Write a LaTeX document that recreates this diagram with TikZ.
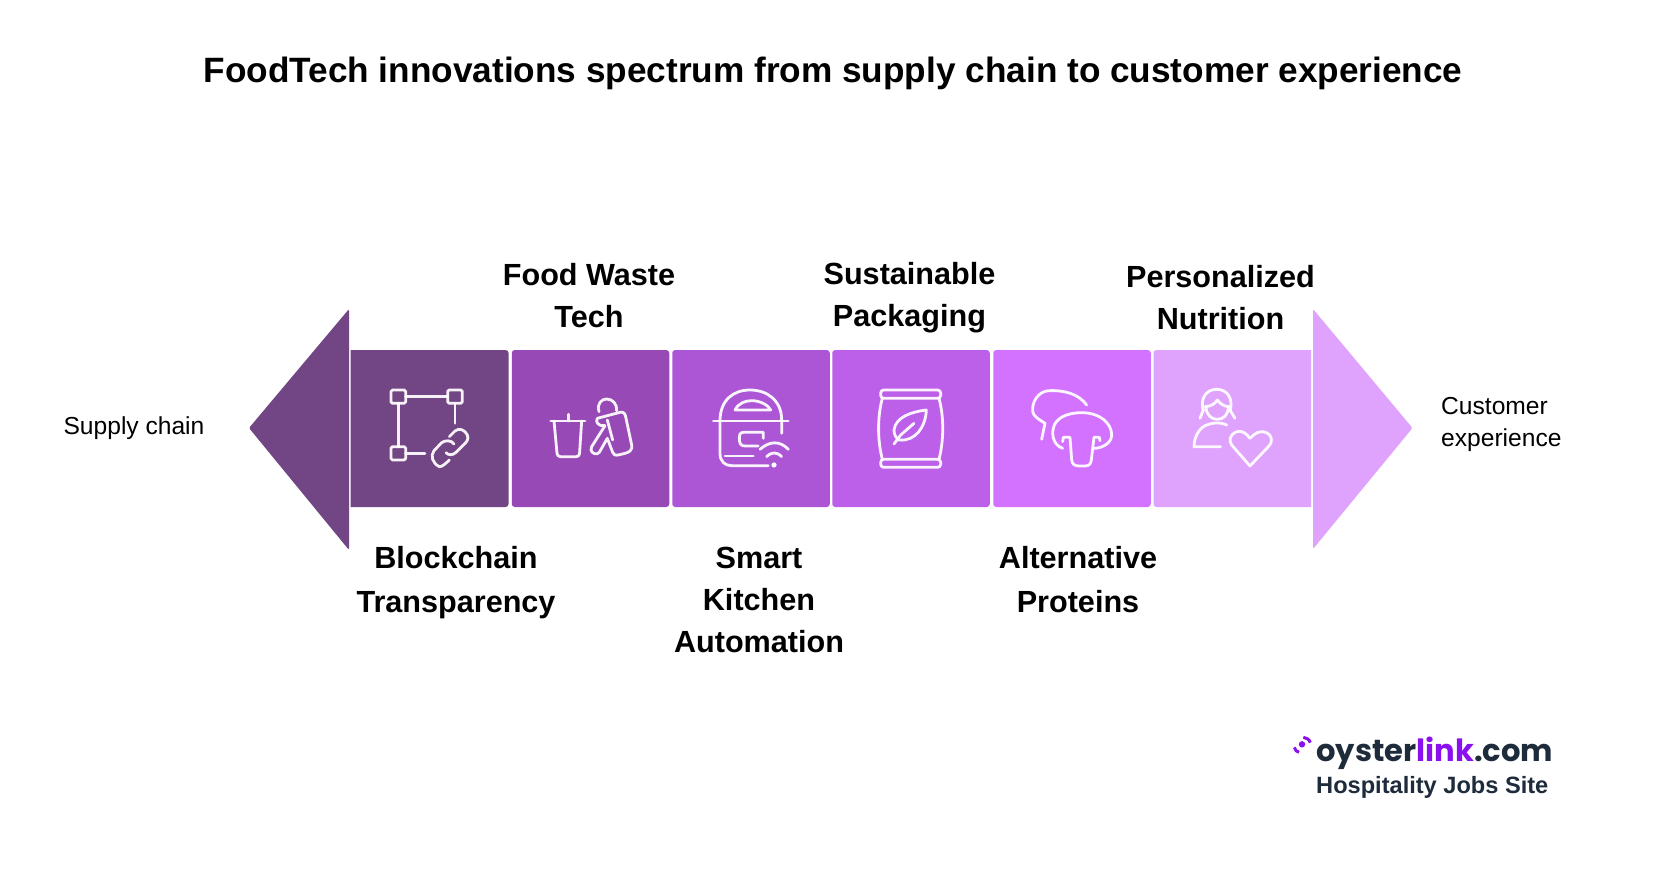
\documentclass[tikz,border=0pt]{standalone}
\usepackage{fontspec}
\setmainfont{Liberation Sans}
\newfontfamily\logofont{Poppins}
\definecolor{cA}{HTML}{724685}
\definecolor{cB}{HTML}{974AB5}
\definecolor{cC}{HTML}{AC56D6}
\definecolor{cD}{HTML}{BC60EA}
\definecolor{cE}{HTML}{D272FF}
\definecolor{cF}{HTML}{E0A3FD}
\definecolor{logoDark}{HTML}{1E2B3A}
\definecolor{logoPurple}{HTML}{8B10F0}
\tikzset{
  tile/.style={fill=#1,draw=none,inner sep=0pt,minimum width=157.5pt,minimum height=157pt,rounded corners=3pt},
  head/.style={inner sep=0pt,align=center,font=\fontsize{35.2}{41}\selectfont\bfseries},
  lab/.style={inner sep=0pt,align=center,font=\fontsize{30.6}{42}\selectfont\bfseries},
  labwide/.style={inner sep=0pt,align=center,font=\fontsize{30.6}{44}\selectfont\bfseries},
  side/.style={inner sep=0pt,align=left,font=\fontsize{24.6}{32}\selectfont},
  icon/.style={draw=white,line width=2.8pt,line cap=round,line join=round,opacity=.93},
}
\begin{document}
\begin{tikzpicture}[x=1pt,y=-1pt]
\useasboundingbox (0,0) rectangle (1654,888);
\fill[white] (0,0) rectangle (1654,888);
\node[head] (title) at (833,73) {FoodTech innovations spectrum from supply chain to customer experience};
% arrows
\fill[cA,rounded corners=1.5pt] (349,309) -- (249,428) -- (349,550) -- cycle;
\fill[cF,rounded corners=1.5pt] (1313,309) -- (1412.5,428) -- (1313,549) -- cycle;
% tiles
\fill[cA,rounded corners=3pt] (350.5,350) [sharp corners] -- (350.5,350) [rounded corners=3pt] -- (508.5,350) -- (508.5,507) [sharp corners] -- (350.5,507) -- cycle;
\node[tile=cB] (t2) at (590.5,428.5) {};
\node[tile=cC] (t3) at (751,428.5) {};
\node[tile=cD] (t4) at (911,428.5) {};
\node[tile=cE] (t5) at (1072,428.5) {};
\fill[cF,rounded corners=3pt] (1311,350) [sharp corners] -- (1311,350) -- (1311,507) [rounded corners=3pt] -- (1153.5,507) -- (1153.5,350) [sharp corners] -- cycle;
% labels
\node[labwide] (l1) at (456,583) {Blockchain\\Transparency};
\node[lab] (l2) at (589,296) {Food Waste\\Tech};
\node[lab] (l3) at (759,600) {Smart\\Kitchen\\Automation};
\node[lab] (l4) at (909.5,298) {Sustainable\\Packaging};
\node[labwide] (l5) at (1078,580) {Alternative\\Proteins};
\node[lab] (l6) at (1220.5,297.5) {Personalized\\Nutrition};
\node[side] (sc) at (134,428) {Supply chain};
\node[side,anchor=west] (ce) at (1441,424) {Customer\\experience};
% icon 1
\begin{scope}[shift={(240,300)},x=.3333pt,y=-.3333pt]
\draw[icon,rounded corners=1.5pt] (453,270) rectangle (497,310);
\draw[icon,rounded corners=1.5pt] (623,270) rectangle (667,310);
\draw[icon,rounded corners=1.5pt] (453,440) rectangle (497,480);
\draw[icon] (497,290) -- (623,290) (475,310) -- (475,440) (645,310) -- (645,370) (497,460) -- (555,460);
\end{scope}
\begin{scope}[shift={(420,420)},x=.3333pt,y=-.3333pt]
\draw[icon] (102,72) .. controls (95,60) and (75,60) .. (65,68) -- (42,92) .. controls (30,108) and (38,130) .. (58,140) .. controls (65,142) and (80,128) .. (88,120);
\draw[icon] (88,50) -- (105,33) .. controls (118,22) and (135,30) .. (142,45) .. controls (148,58) and (138,68) .. (130,75) -- (108,97) .. controls (98,107) and (85,106) .. (78,98);
\end{scope}
% icon 2
\begin{scope}[shift={(540,385)},x=.3333pt,y=-.3333pt]
\draw[icon] (32,108) -- (135,108) (85,88) -- (85,108);
\draw[icon,rounded corners=3pt] (42,108) -- (52,215) -- (118,215) -- (125,108);
\end{scope}
\begin{scope}[shift={(590,395)},x=.3333pt,y=-.3333pt]
\draw[icon] (27,50) .. controls (20,25) and (35,12) .. (50,12) .. controls (68,12) and (82,28) .. (80,47);
\draw[icon] (22,70) -- (90,52) .. controls (100,50) and (105,55) .. (107,65) -- (125,150) .. controls (128,165) and (118,172) .. (105,175) -- (85,180) .. controls (75,182) and (70,178) .. (68,172) -- (52,130) -- (28,172) .. controls (20,182) and (5,175) .. (3,165) .. controls (2,160) and (3,158) .. (5,155) -- (45,92) .. controls (25,95) and (15,80) .. (22,70);
\draw[icon] (52,75) -- (68,135);
\end{scope}
% icon 3
\begin{scope}[shift={(700,370)},x=.3333pt,y=-.3333pt]
\draw[icon] (60,153) .. controls (60,90) and (100,60) .. (150,60) .. controls (200,60) and (245,90) .. (245,150) -- (245,190);
\draw[icon] (40,153) -- (265,153);
\draw[icon] (105,120) .. controls (115,100) and (135,92) .. (155,92) .. controls (180,92) and (205,105) .. (212,120) -- cycle;
\draw[icon] (60,153) -- (60,250) .. controls (60,275) and (75,287) .. (95,287) -- (205,287);
\draw[icon] (75,258) -- (160,258);
\draw[icon] (190,205) -- (190,187) -- (130,187) .. controls (120,187) and (118,195) .. (118,205) .. controls (118,220) and (122,228) .. (135,228) -- (175,228);
\draw[icon] (180,238) .. controls (210,212) and (240,212) .. (265,238);
\draw[icon] (200,260) .. controls (215,245) and (230,245) .. (245,260);
\fill[white] (222,285) circle[radius=2.6pt];
\end{scope}
% icon 4
\begin{scope}[shift={(869,380)},x=.3333pt,y=-.3333pt]
\draw[icon,rounded corners=3pt] (35,30) rectangle (215,55);
\draw[icon,rounded corners=3pt] (35,238) rectangle (215,262);
\draw[icon] (40,55) .. controls (25,110) and (25,180) .. (40,238);
\draw[icon] (210,55) .. controls (225,110) and (225,180) .. (210,238);
\draw[icon] (172,90) .. controls (130,95) and (80,110) .. (75,150) .. controls (75,165) and (82,175) .. (90,180) .. controls (140,185) and (170,140) .. (172,90) -- cycle;
\draw[icon] (75,192) -- (95,165) -- (135,130);
\end{scope}
% icon 5
\begin{scope}[shift={(1020,380)},x=.3333pt,y=-.3333pt]
\draw[icon] (200,75) .. controls (175,40) and (130,30) .. (85,32) .. controls (55,35) and (35,65) .. (38,95) .. controls (40,110) and (60,120) .. (75,130) -- (65,178);
\draw[icon] (128,205) .. controls (100,195) and (95,165) .. (100,145) .. controls (105,115) and (140,98) .. (185,98) .. controls (240,98) and (275,130) .. (275,165) .. controls (275,190) and (245,205) .. (222,205);
\draw[icon] (128,185) -- (130,172) -- (150,172) -- (155,240) .. controls (157,255) and (165,258) .. (180,258) -- (195,258) .. controls (208,258) and (213,250) .. (214,240) -- (222,172) -- (238,172) -- (240,182);
\end{scope}
% icon 6
\begin{scope}[shift={(1180,380)},x=.3333pt,y=-.3333pt]
\draw[icon] (70,92) .. controls (60,60) and (75,28) .. (110,28) .. controls (145,28) and (160,60) .. (150,92);
\draw[icon] (60,115) -- (70,90) (165,115) -- (150,90);
\draw[icon] (75,80) .. controls (90,80) and (105,72) .. (112,60) .. controls (120,72) and (135,80) .. (147,80);
\draw[icon] (78,80) .. controls (78,105) and (95,118) .. (112,118) .. controls (130,118) and (145,105) .. (145,80);
\draw[icon] (140,135) .. controls (120,125) and (90,128) .. (70,140) .. controls (50,155) and (42,180) .. (42,200) -- (122,200);
\draw[icon] (210,258) -- (155,195) .. controls (140,170) and (165,150) .. (185,155) .. controls (200,158) and (208,175) .. (210,175) .. controls (212,175) and (225,155) .. (245,155) .. controls (270,155) and (285,180) .. (265,200) -- cycle;
\end{scope}
% logo
\begin{scope}[shift={(1280,720)},x=.3333pt,y=-.3333pt]
\fill[logoPurple] (66,73) circle[radius=3.2pt];
\draw[logoPurple,line width=3pt] (43,82) .. controls (45,90) and (50,96) .. (57,97);
\draw[logoPurple,line width=3pt] (70,52) .. controls (80,53) and (88,58) .. (91,68);
\end{scope}
\node[inner sep=0pt,anchor=base west,font=\logofont\fontsize{30.6}{36}\selectfont\bfseries,text=logoDark] (logo) at (1316,761) {oyster\textcolor{logoPurple}{link}.com};
\node[inner sep=0pt,anchor=base west,font=\fontsize{23.6}{30}\selectfont\bfseries,text=logoDark] (tag) at (1316,793) {Hospitality Jobs Site};
\end{tikzpicture}
\end{document}
